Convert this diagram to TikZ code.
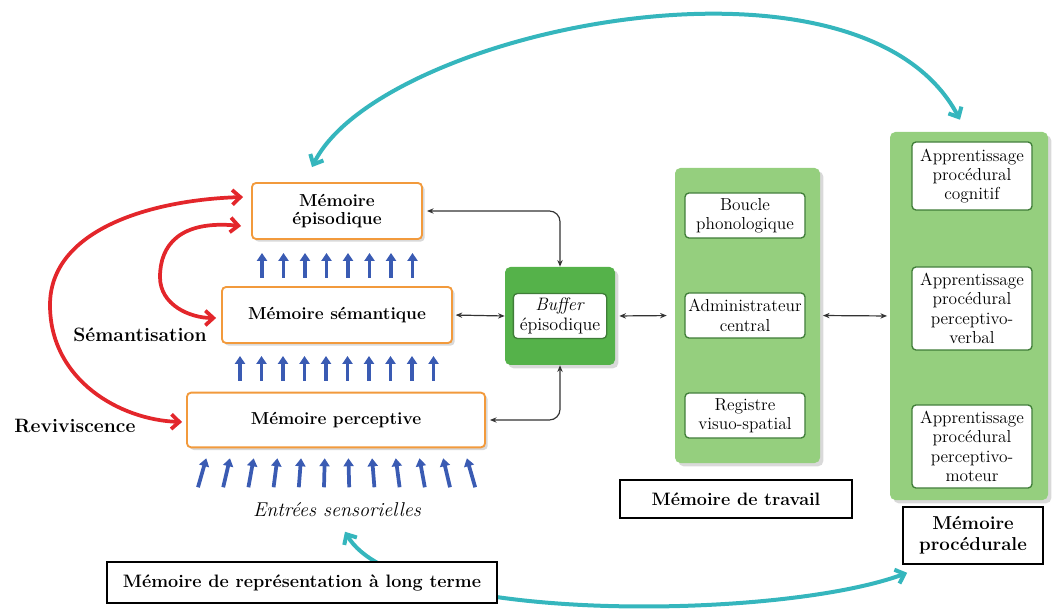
\documentclass[tikz,border=0pt]{standalone}
\usepackage{xcolor}
\usetikzlibrary{calc}
\usetikzlibrary{arrows.meta}
\usetikzlibrary{positioning}
\usetikzlibrary{shadows}
\definecolor{CyanArc}{HTML}{35B6BD}
\definecolor{RedArc}{HTML}{E3262B}
\definecolor{BlueArrow}{HTML}{3A5BB3}
\definecolor{OrangeEdge}{HTML}{F29A3C}
\definecolor{BufferGreen}{HTML}{55B24A}
\definecolor{PanelGreen}{HTML}{95CF7E}
\definecolor{EdgeGreen}{HTML}{3F7D38}
\definecolor{LinkGrey}{HTML}{333333}

\begin{document}
\begin{tikzpicture}[x=0.75pt, y=-0.75pt,
  membox/.style={draw=OrangeEdge, line width=1.4pt, fill=white, rounded corners=3pt,
    align=center, font=\bfseries\fontsize{13}{14}\selectfont,
    drop shadow={opacity=0.3, shadow xshift=2pt, shadow yshift=-2pt}},
  panel/.style={fill=PanelGreen, rounded corners=4pt,
    drop shadow={opacity=0.3, shadow xshift=2.5pt, shadow yshift=-2.5pt}},
  subbox/.style={draw=EdgeGreen, line width=1pt, fill=white, rounded corners=3pt,
    align=center, inner sep=1pt, minimum width=90pt, font=\fontsize{13}{14.5}\selectfont},
  namebox/.style={draw, line width=1.2pt, fill=white, align=center,
    font=\bfseries\fontsize{13.5}{15}\selectfont},
  sidelabel/.style={font=\bfseries\fontsize{14.5}{16}\selectfont},
  uparrow/.style={BlueArrow, line width=2.8pt, -{Triangle[length=6pt,width=7.5pt]}},
  link/.style={LinkGrey, line width=0.9pt,
    {Stealth[length=5pt,width=4pt]}-{Stealth[length=5pt,width=4pt]}},
  redarc/.style={RedArc, line width=2.8pt,
    {Straight Barb[length=6pt,width=11pt]}-{Straight Barb[length=6pt,width=11pt]}},
  cyanarc/.style={CyanArc, line width=3pt,
    {Straight Barb[length=6pt,width=11pt]}-{Straight Barb[length=6pt,width=11pt]}}]

  \useasboundingbox (0,0) rectangle (1053,609);

  % long term memories
  \node[membox, minimum width=127.5pt, minimum height=42pt] (EpiMem) at (337,211) {Mémoire\\épisodique};
  \node[membox, minimum width=172.5pt, minimum height=42pt] (SemMem) at (337,315) {Mémoire sémantique};
  \node[membox, minimum width=223.5pt, minimum height=41pt] (PercMem) at (336,420) {Mémoire perceptive};
  \node[font=\itshape\fontsize{15}{17}\selectfont] (Entrees) at (337,510) {Entrées sensorielles};
  \node[sidelabel] (Semant) at (140,335) {Sémantisation};
  \node[sidelabel] (Revivis) at (75,426) {Reviviscence};

  \foreach \i in {0,...,7}{%
    \draw[uparrow] ($(EpiMem.south)+({-75+21.5*\i},38)$) -- ++(0,-25);
  }
  \foreach \i in {0,...,9}{%
    \draw[uparrow] ($(SemMem.south)+({-97+21.5*\i},37)$) -- ++(0,-25);
  }
  \foreach \i in {0,...,11}{%
    \pgfmathsetmacro\xb{-138+25.2*\i}
    \draw[uparrow] ($(PercMem.south)+(\xb,39)$) -- ($(PercMem.south)+({0.94*\xb},10)$);
  }

  % buffer
  \node[fill=BufferGreen, rounded corners=4pt, minimum width=82.5pt, minimum height=73.5pt,
    drop shadow={opacity=0.3, shadow xshift=2.5pt, shadow yshift=-2.5pt}] (Buffer) at (560,316) {};
  \node[subbox, minimum width=70pt, minimum height=33.75pt, font=\fontsize{13.5}{14.5}\selectfont]
    (BufferIn) at (Buffer) {\textit{Buffer}\\épisodique};

  % working memory
  \node[panel, minimum width=108.75pt, minimum height=221.25pt] (WorkMem) at (747.5,315.5) {};
  \node[subbox, minimum height=33.75pt] (Boucle) at (745,215.5) {Boucle\\phonologique};
  \node[subbox, minimum height=33.75pt] (Admin) at (745,315.5) {Administrateur\\central};
  \node[subbox, minimum height=33.75pt] (Registre) at (745,415.5) {Registre\\visuo-spatial};
  \node[namebox, minimum width=174pt, minimum height=28.5pt] (WorkLabel) at (736,499) {Mémoire de travail};

  % procedural memory
  \node[panel, minimum width=118.5pt, minimum height=276pt] (ProcMem) at (969,316) {};
  \node[subbox, minimum height=51pt] (ProcCog) at (972,176) {Apprentissage\\procédural\\cognitif};
  \node[subbox, minimum height=62.25pt] (ProcVerb) at (972,308.5) {Apprentissage\\procédural\\perceptivo-\\verbal};
  \node[subbox, minimum height=62.25pt] (ProcMot) at (972,446.5) {Apprentissage\\procédural\\perceptivo-\\moteur};
  \node[namebox, minimum width=105pt, minimum height=42.75pt, font=\bfseries\fontsize{14}{15.5}\selectfont]
    (ProcLabel) at (973,535.5) {Mémoire\\procédurale};

  % links
  \draw[link, rounded corners=8pt, shorten <=3pt] (EpiMem.east) -| (Buffer.north);
  \draw[link, shorten <=2pt] (SemMem.east) -- (Buffer.west);
  \draw[link, rounded corners=8pt, shorten <=3pt] (PercMem.east) -| (Buffer.south);
  \draw[link, shorten <=3pt, shorten >=6pt] (Buffer.east) -- (WorkMem.west);
  \draw[link, shorten <=2pt, shorten >=2pt] (WorkMem.east) -- (ProcMem.west);

  \draw[redarc] ($(EpiMem.west)+(-8,-14)$) .. controls (150,200) and (50,230) .. (50,305)
    .. controls (50,380) and (120,420) .. ($(PercMem.west)+(-4,2)$);
  \draw[redarc] ($(EpiMem.west)+(-10,15)$) .. controls (180,220) and (160,245) .. (160,277)
    .. controls (160,305) and (190,318) .. ($(SemMem.west)+(-5,3)$);

  \draw[cyanarc] ($(EpiMem.north)+(-25,-15)$) .. controls (380,30) and (860,-70) .. ($(ProcMem.north)+(-9,-12)$);
  \draw[cyanarc] ($(Entrees.south)+(8,10)$) .. controls (400,625) and (780,620) .. ($(ProcLabel.south west)+(5,8)$);

  \node[namebox, minimum width=292.5pt, minimum height=30.75pt] (LongLabel) at (302,582.5)
    {Mémoire de représentation à long terme};
\end{tikzpicture}
\end{document}
